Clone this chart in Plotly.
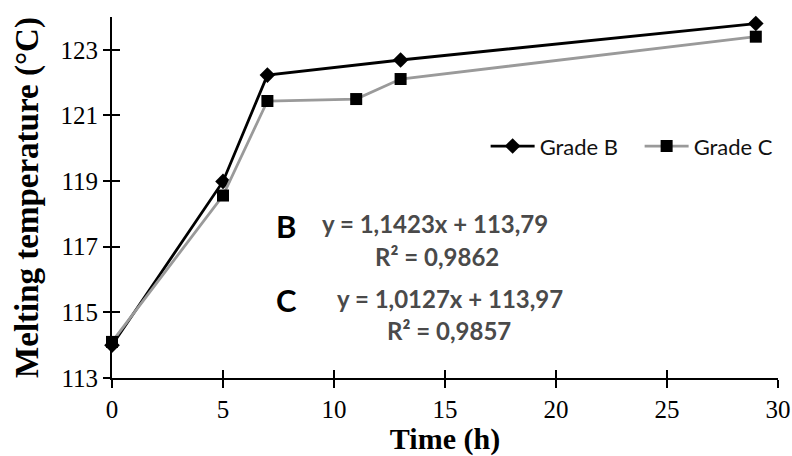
import plotly.graph_objects as go

# Data
time_b = [0, 5, 7, 13, 29]
temp_b = [114.0, 118.99, 122.23, 122.69, 123.8]
time_c = [0, 5, 7, 11, 13, 29]
temp_c = [114.1, 118.56, 121.44, 121.5, 122.11, 123.4]

x_ticks = [0, 5, 10, 15, 20, 25, 30]
y_ticks = [113, 115, 117, 119, 121, 123]

eq_b = ["y = 1,1423x + 113,79", "R² = 0,9862"]
eq_c = ["y = 1,0127x + 113,97", "R² = 0,9857"]

fig = go.Figure()
fig.add_trace(go.Scatter(
    x=time_b, y=temp_b, name="Grade B", mode="lines+markers",
    line=dict(color="black", width=2.8),
    marker=dict(symbol="diamond", size=12, color="black"),
    cliponaxis=False,
))
fig.add_trace(go.Scatter(
    x=time_c, y=temp_c, name="Grade C", mode="lines+markers",
    line=dict(color="#9a9a9a", width=2.8),
    marker=dict(symbol="square", size=12, color="black"),
    cliponaxis=False,
))

serif = "Liberation Serif, Times New Roman, serif"
sans = "Lato, Open Sans, sans-serif"

fig.update_layout(
    width=792, height=456,
    margin=dict(l=112, r=14, t=17, b=78, autoexpand=False),
    paper_bgcolor="white", plot_bgcolor="white",
    showlegend=True,
    legend=dict(
        orientation="h", x=0.561, y=0.642, xanchor="left", yanchor="middle",
        font=dict(family=sans, size=22, color="#111"),
        bgcolor="rgba(0,0,0,0)", itemwidth=44, tracegroupgap=0,
        entrywidthmode="pixels", entrywidth=95,
    ),
    xaxis=dict(
        range=[0, 30], tickvals=x_ticks, ticks="outside", ticklen=8,
        tickwidth=1.5, tickcolor="black", showline=True, linecolor="black",
        linewidth=2, showgrid=False, zeroline=False, automargin=False,
        tickfont=dict(family=serif, size=25, color="black"),
        title=dict(text="<b>Time (h)</b>", font=dict(family=serif, size=30, color="black"), standoff=18),
    ),
    yaxis=dict(
        range=[113, 124.0], tickvals=y_ticks, ticks="outside", ticklen=7,
        tickwidth=1.5, tickcolor="black", showline=True, linecolor="black",
        linewidth=2, showgrid=False, zeroline=False, automargin=False,
        tickfont=dict(family=serif, size=25, color="black"),
        title=dict(text="<b>Melting temperature (°C)</b>", font=dict(family=serif, size=33, color="black"), standoff=12),
    ),
    xaxis2=dict(
        overlaying="x", anchor="y", side="bottom", range=[0, 30], tickvals=x_ticks,
        ticks="inside", ticklen=8, tickwidth=1.5, tickcolor="black",
        showticklabels=False, showline=False, showgrid=False, zeroline=False,
    ),
    yaxis2=dict(
        overlaying="y", anchor="x", side="left", range=[113, 124.0], tickvals=y_ticks,
        ticks="inside", ticklen=8, tickwidth=1.5, tickcolor="black",
        showticklabels=False, showline=False, showgrid=False, zeroline=False,
    ),
)

# Invisible trace so the overlay axes are drawn
fig.add_trace(go.Scatter(x=[None], y=[None], xaxis="x2", yaxis="y2",
                         showlegend=False, hoverinfo="skip"))

ann_font_big = dict(family=sans, size=31, color="black")
ann_font = dict(family=sans, size=24, color="#4a4a4a")

annotations = [
    dict(x=7.86, y=117.62, text="<b>B</b>", font=ann_font_big),
    dict(x=14.54, y=117.71, text="<b>" + eq_b[0] + "</b>", font=ann_font),
    dict(x=14.65, y=116.69, text="<b>" + eq_b[1] + "</b>", font=ann_font),
    dict(x=7.86, y=115.37, text="<b>C</b>", font=ann_font_big),
    dict(x=15.22, y=115.43, text="<b>" + eq_c[0] + "</b>", font=ann_font),
    dict(x=15.17, y=114.45, text="<b>" + eq_c[1] + "</b>", font=ann_font),
]
for a in annotations:
    fig.add_annotation(xref="x", yref="y", showarrow=False,
                       xanchor="center", yanchor="middle", **a)

# remove the page's default body margin so the 792x456 figure fills the window
fig.write_html("out.html",
               config={"displayModeBar": False},
               post_script="document.body.style.margin='0';document.body.style.overflow='hidden';")
